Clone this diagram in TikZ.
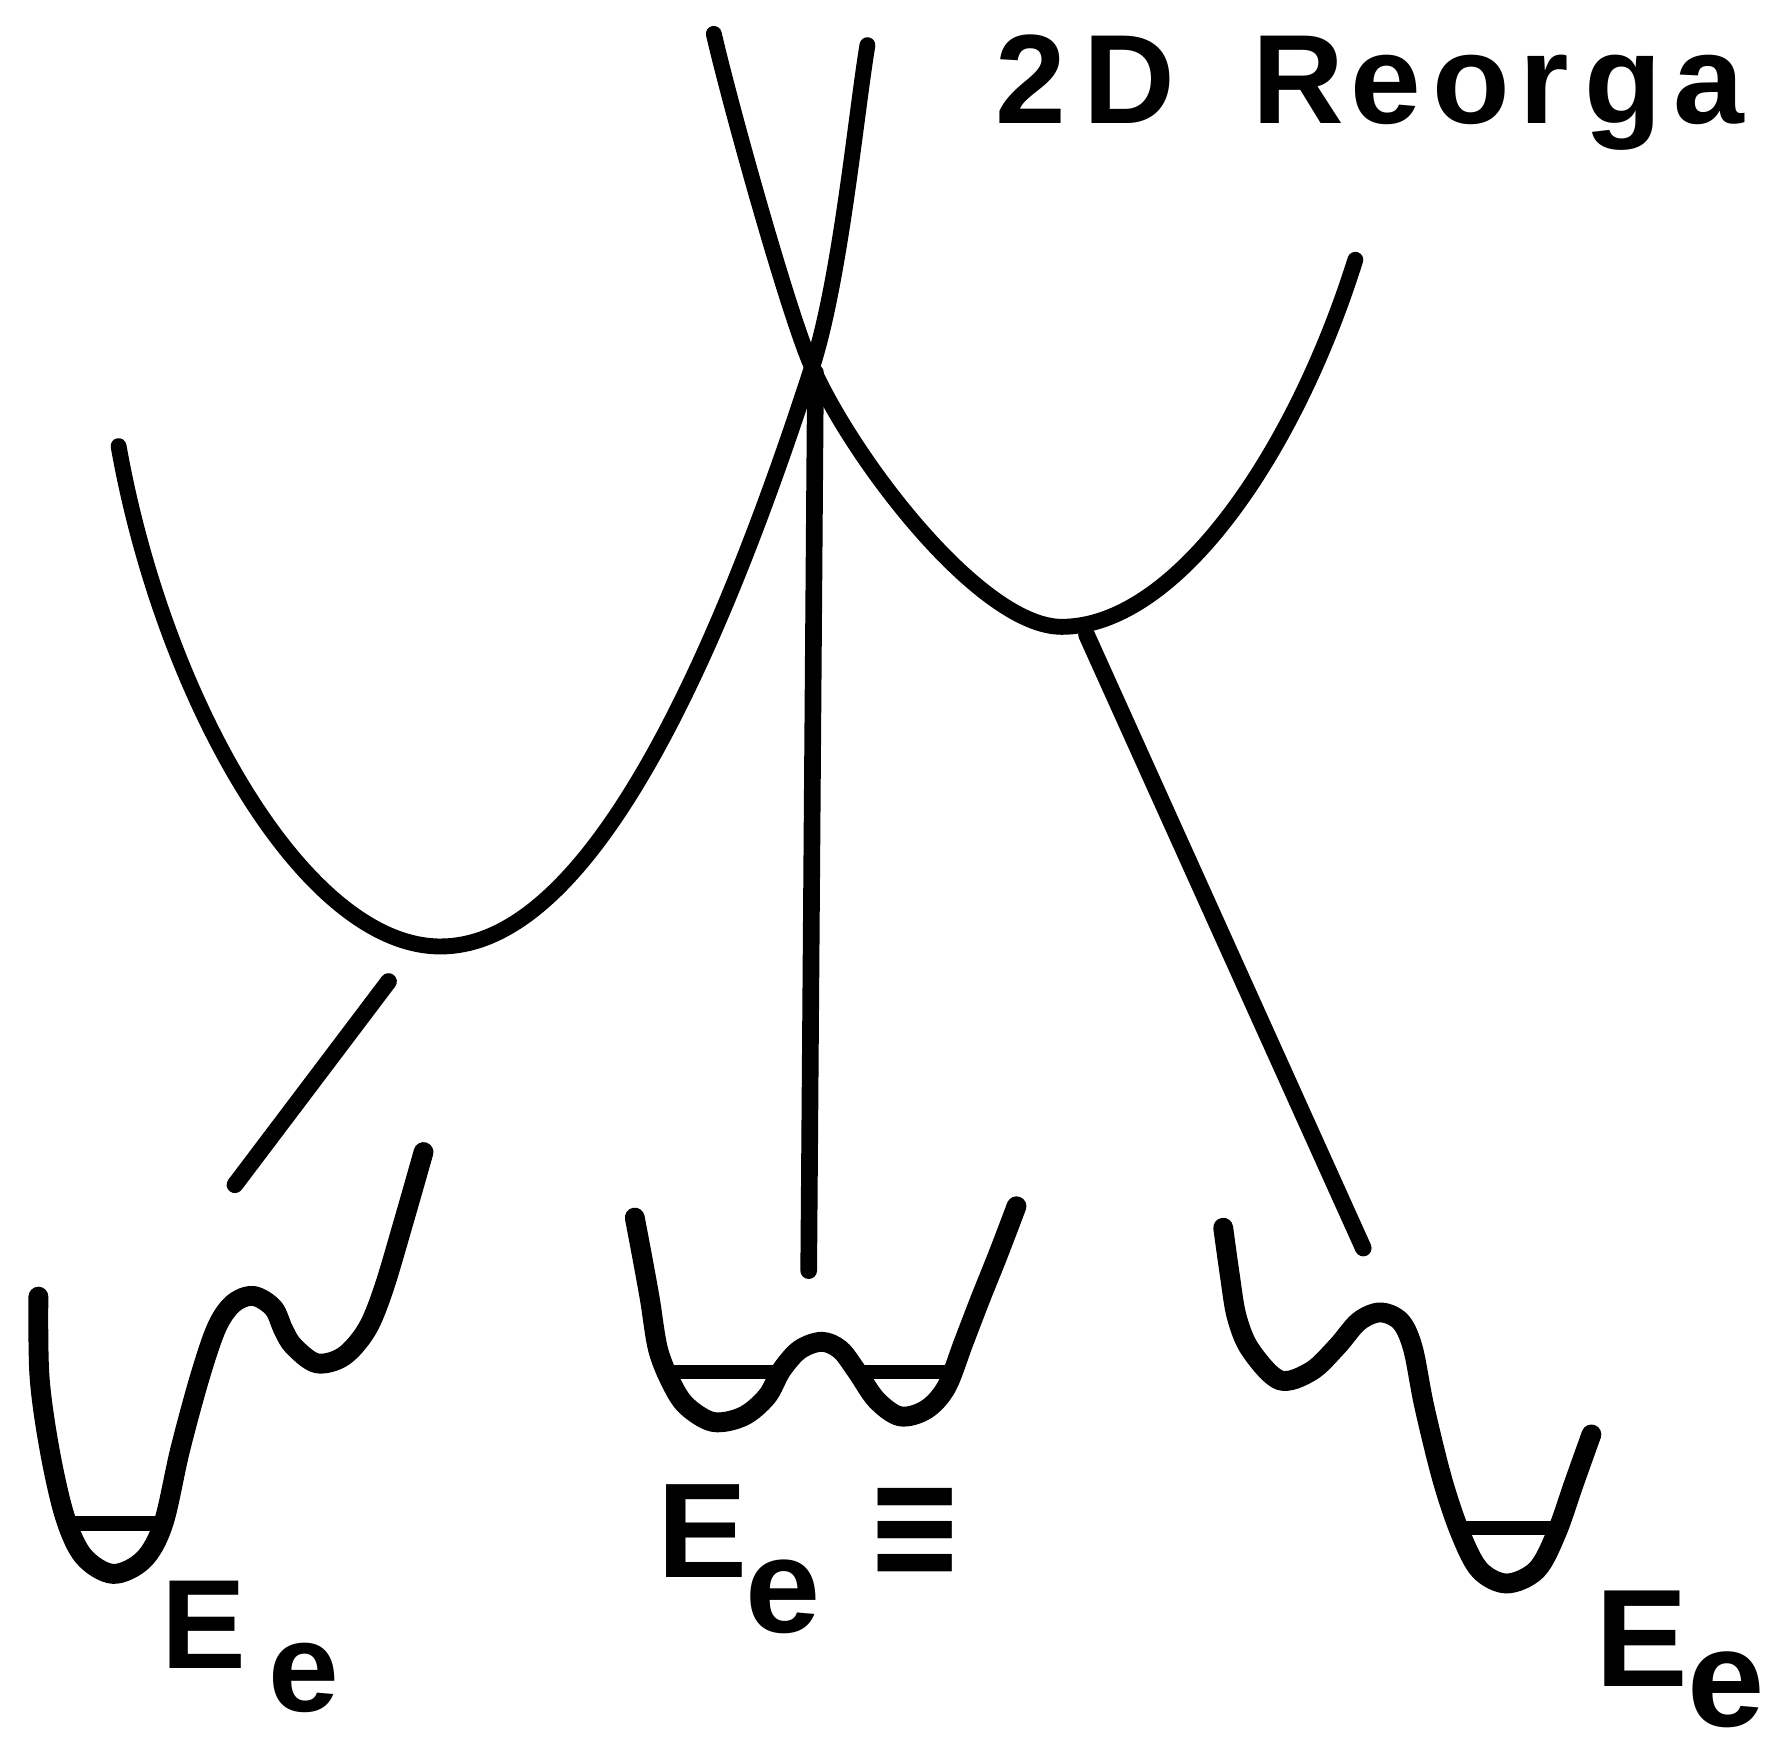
\documentclass[tikz,border=0pt]{standalone}
\usepackage{fontspec}
\setmainfont{Liberation Sans}
\newfontfamily\symf{DejaVu Sans}
\begin{document}
\begin{tikzpicture}[x=0.1mm,y=-0.1mm,
  curve/.style={line width=4pt,line cap=round,line join=round},
  link/.style={line width=4.2pt,line cap=round},
  well/.style={line width=5pt,line cap=round,line join=round},
  level/.style={line width=3.6pt},
  lab/.style={inner sep=0pt,anchor=base west}]
\path[use as bounding box] (0,0) rectangle (1568,1544);
\clip (0,0) rectangle (1568,1544);
\fill[white] (0,0) rectangle (1568,1544);

% title
\node[lab,font=\bfseries\fontsize{32}{38}\selectfont] (title) at (881,109)
  {2\kern4.2pt D\kern19.7pt R\kern1.4pt e\kern2.8pt o\kern2.6pt r\kern3.7pt g\kern3.1pt a};

% left parabola
\draw[curve] (105,395) .. controls (145,620) and (270,838) .. (390,838)
  .. controls (498.7,838) and (608.3,667) .. (719,325)
  .. controls (744,248) and (758,100) .. (768,40);
% right parabola
\draw[curve] (632,30) .. controls (647,95) and (699,281) .. (719,325)
  .. controls (759,413) and (870,555) .. (940,555)
  .. controls (1040,555) and (1145,405) .. (1200,230);

% connectors
\coordinate (vtop) at (722,330);
\coordinate (vbot) at (716,1125);
\coordinate (ltop) at (344,869);
\coordinate (lbot) at (208,1049);
\coordinate (rtop) at (962,562);
\coordinate (rbot) at (1207,1105);
\draw[link] (vtop) -- (vbot);
\draw[link] (ltop) -- (lbot);
\draw[link] (rtop) -- (rbot);

% left well
\draw[well] plot[smooth,tension=0.55] coordinates {
 (34,1148) (35,1219) (44,1284) (57.5,1343) (74,1378) (100,1393.5) (127,1381)
 (144.6,1349) (159.4,1284) (177,1219) (192,1175) (206.6,1154) (224.3,1147.4)
 (242,1158) (251,1177.5) (260,1192) (280.4,1207) (304,1201) (324.6,1177.5)
 (339.4,1142) (357,1083) (375,1020)};
\draw[level] (59,1349) -- (145,1349);

% middle well
\draw[well] plot[smooth,tension=0.55] coordinates {
 (562,1078) (569,1115) (575.5,1151) (582.7,1195) (594.7,1225) (608,1245)
 (631.5,1259) (658,1254) (679,1236.5) (692,1213) (708,1195) (727.5,1188)
 (744,1195) (758.5,1214) (776,1239.5) (797,1254) (820,1248) (838,1228)
 (853,1189) (867.6,1151) (884,1110) (900,1068)};
\draw[level] (595,1215) -- (686,1215);
\draw[level] (757,1215) -- (841,1215);

% right well
\draw[well] plot[smooth,tension=0.55] coordinates {
 (1083,1087) (1089,1130) (1095,1166) (1107,1195) (1133,1222) (1161,1214)
 (1184,1192) (1203,1170) (1222,1162) (1240,1170) (1251,1194) (1261,1245)
 (1277,1310) (1293,1357.5) (1310,1390) (1334,1402) (1360.5,1390)
 (1378,1357.5) (1394,1312) (1409,1270)};
\draw[level] (1293,1353) -- (1379,1353);

% labels
\node[lab,font=\bfseries\fontsize{32}{38}\selectfont] (E1) at (142,1477) {E};
\node[lab,font=\bfseries\fontsize{32}{38}\selectfont] (e1) at (237,1515) {e};
\node[lab,font=\bfseries\fontsize{34}{40}\selectfont] (E2) at (581,1397) {E};
\node[lab,font=\bfseries\fontsize{34}{40}\selectfont] (e2) at (659,1445) {e};
\node[inner sep=0pt,font=\symf\bfseries\fontsize{36}{42}\selectfont] (eq) at (810,1357) {\scalebox{0.83}[1.06]{≡}};
\node[lab,font=\bfseries\fontsize{35}{42}\selectfont] (E3) at (1412,1493) {E};
\node[lab,font=\bfseries\fontsize{35}{42}\selectfont] (e3) at (1493,1529) {e};
\end{tikzpicture}
\end{document}
